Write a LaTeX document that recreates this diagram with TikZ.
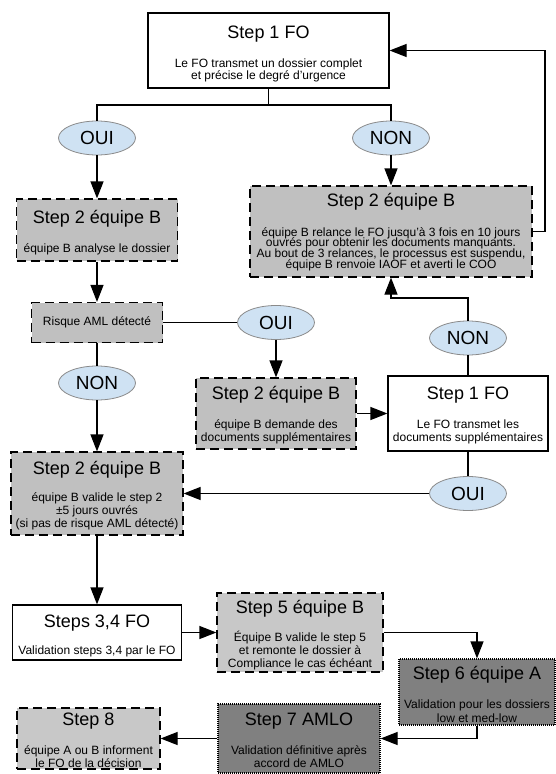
\documentclass[tikz,border=0pt]{standalone}
\usepackage{fontspec}
\setmainfont{Liberation Sans}
\usetikzlibrary{arrows.meta,shapes.geometric}
\definecolor{boxgray}{HTML}{C0C0C0}
\definecolor{palegray}{HTML}{C8C8C8}
\definecolor{deepgray}{HTML}{808080}
\definecolor{answerblue}{HTML}{CFE2F3}
\definecolor{answerline}{HTML}{8A8A8A}
\lineskiplimit=-50pt
\tikzset{
  fostep/.style={draw, fill=white, line width=1.2pt, inner sep=0pt},
  eqbstep/.style={draw, fill=boxgray, line width=1.2pt, dash pattern=on 9pt off 5pt, inner sep=0pt},
  eqbpale/.style={eqbstep, fill=palegray},
  amlstep/.style={draw, fill=deepgray, line width=1.2pt, dash pattern=on 1pt off 1pt, inner sep=0pt},
  answer/.style={ellipse, draw=answerline, line width=0.8pt, fill=answerblue, minimum width=77pt, minimum height=34pt, inner sep=0pt, font=\fontsize{19}{19}\selectfont},
  steptitle/.style={font=\fontsize{18}{18}\selectfont, inner sep=0pt},
  steptext/.style={font=\fontsize{12}{13}\selectfont, align=center, inner sep=0pt},
}
\begin{document}
\begin{tikzpicture}[x=1pt, y=-1pt, line width=1.2pt, >={Triangle[length=17pt,width=13pt]}]
    \useasboundingbox (0, 0) rectangle (556, 774);

    % Nodes
    \node[fostep, minimum width=241pt, minimum height=75pt] (FOStart) at (268.5, 50.5) {};
    \node[steptitle] (FOStartTitle) at (268.5, 34) {Step 1 FO};
    \node[steptext, font=\fontsize{12}{12}\selectfont] (FOStartText) at (268.5, 70) {Le FO transmet un dossier complet\\et précise le degré d'urgence};

    \node[answer] (OuiA) at (97, 138) {OUI};
    \node[answer] (NonA) at (391, 138) {NON};

    \node[eqbstep, minimum width=161pt, minimum height=62pt] (EqBAnalyse) at (97, 230) {};
    \node[steptitle] (EqBAnalyseTitle) at (97, 219) {Step 2 équipe B};
    \node[steptext] (EqBAnalyseText) at (97, 249) {équipe B analyse le dossier};

    \node[eqbstep, minimum width=282pt, minimum height=91pt] (EqBRelance) at (391, 231.5) {};
    \node[steptitle] (EqBRelanceTitle) at (391, 202) {Step 2 équipe B};
    \node[steptext, font=\fontsize{12}{10.7}\selectfont] (EqBRelanceText) at (391, 249) {équipe B relance le FO jusqu'à 3 fois en 10 jours\\ouvrés pour obtenir les documents manquants.\\Au bout de 3 relances, le processus est suspendu,\\équipe B renvoie IAOF et averti le COO};

    \node[eqbstep, minimum width=131pt, minimum height=40pt, font=\fontsize{12}{13}\selectfont] (Risque) at (97, 322.5) {Risque AML détecté};
    \node[answer] (OuiB) at (276, 322.5) {OUI};
    \node[answer] (NonB) at (97, 383) {NON};

    \node[eqbstep, minimum width=160pt, minimum height=71pt] (EqBDemande) at (276, 413.5) {};
    \node[steptitle] (EqBDemandeTitle) at (276, 395) {Step 2 équipe B};
    \node[steptext] (EqBDemandeText) at (276, 431.5) {équipe B demande des\\documents supplémentaires};

    \node[fostep, minimum width=160pt, minimum height=75pt] (FOSupp) at (468, 413.5) {};
    \node[steptitle] (FOSuppTitle) at (468, 395) {Step 1 FO};
    \node[steptext] (FOSuppText) at (468, 431.5) {Le FO transmet les\\documents supplémentaires};

    \node[answer] (NonC) at (468, 338) {NON};
    \node[answer] (OuiC) at (468, 493.5) {OUI};

    \node[eqbstep, minimum width=172pt, minimum height=83pt] (EqBValide) at (97, 493.5) {};
    \node[steptitle] (EqBValideTitle) at (97, 470) {Step 2 équipe B};
    \node[steptext] (EqBValideText) at (97, 511) {équipe B valide le step 2\\±5 jours ouvrés\\(si pas de risque AML détecté)};

    \node[fostep, minimum width=169pt, minimum height=55pt] (FOValid) at (97, 632.5) {};
    \node[steptitle] (FOValidTitle) at (97, 623) {Steps 3,4 FO};
    \node[steptext] (FOValidText) at (97, 651) {Validation steps 3,4 par le FO};

    \node[eqbpale, minimum width=166pt, minimum height=79pt] (EqBStep5) at (300, 632.5) {};
    \node[steptitle] (EqBStep5Title) at (300, 609) {Step 5 équipe B};
    \node[steptext] (EqBStep5Text) at (300, 651) {Équipe B valide le step 5\\et remonte le dossier à\\Compliance le cas échéant};

    \node[amlstep, minimum width=156pt, minimum height=66pt] (EqAStep6) at (477, 692) {};
    \node[steptitle] (EqAStep6Title) at (477, 675) {Step 6 équipe A};
    \node[steptext, font=\fontsize{12}{13.5}\selectfont] (EqAStep6Text) at (477, 711) {Validation pour les dossiers\\low et med-low};

    \node[amlstep, minimum width=162pt, minimum height=69pt] (AMLOStep7) at (299, 738.5) {};
    \node[steptitle] (AMLOStep7Title) at (299, 721) {Step 7 AMLO};
    \node[steptext] (AMLOStep7Text) at (299, 756.5) {Validation définitive après\\accord de AMLO};

    \node[eqbpale, minimum width=143pt, minimum height=61pt] (Step8) at (88.5, 738.5) {};
    \node[steptitle] (Step8Title) at (88.5, 721) {Step 8};
    \node[steptext] (Step8Text) at (88.5, 757) {équipe A ou B informent\\le FO de la décision};

    % Arrows
    \coordinate (Split) at (268.5, 105);
    \coordinate (Loop) at (545, 231.5);
    \coordinate (Back) at (468, 298);
    \draw (FOStart.south) -- (Split);
    \draw (OuiA.north) |- (Split) -| (NonA.north);
    \draw[->] (OuiA) -- (EqBAnalyse);
    \draw[->] (NonA) -- (EqBRelance);
    \draw[->] (EqBRelance.east) -- (Loop) |- (FOStart.east);
    \draw[->] (EqBAnalyse) -- (Risque);
    \draw (Risque) -- (OuiB);
    \draw[->] (OuiB) -- (EqBDemande);
    \draw (Risque) -- (NonB);
    \draw[->] (NonB) -- (EqBValide);
    \draw[->] (EqBDemande) -- (FOSupp);
    \draw (FOSupp) -- (NonC);
    \draw[->] (NonC.north) -- (Back) -| (EqBRelance.south);
    \draw (FOSupp) -- (OuiC);
    \draw[->] (OuiC) -- (EqBValide);
    \draw[->] (EqBValide) -- (FOValid);
    \draw[->] (FOValid) -- (EqBStep5);
    \draw[->] (EqBStep5.east) -| (EqAStep6.north);
    \draw[->] (EqAStep6.south) |- (AMLOStep7.east);
    \draw[->] (AMLOStep7) -- (Step8);
\end{tikzpicture}
\end{document}
